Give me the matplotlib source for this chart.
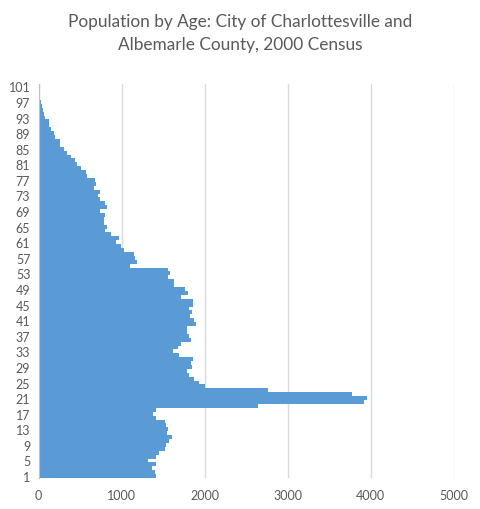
import matplotlib
matplotlib.use("Agg")
import matplotlib.pyplot as plt

# population by single year of age
ages = list(range(1, 102))
population = [
    1417, 1405, 1368, 1417, 1320, 1417, 1453, 1525, 1538, 1574,   # 1-10
    1610, 1550, 1562, 1538, 1525, 1417, 1380, 1417, 2637, 3920,   # 11-20
    3958, 3774, 2758, 2008, 1927, 1867, 1806, 1782, 1843, 1830,   # 21-30
    1855, 1685, 1623, 1681, 1718, 1838, 1814, 1790, 1790, 1900,   # 31-40
    1874, 1826, 1850, 1814, 1862, 1862, 1717, 1801, 1765, 1632,   # 41-50
    1632, 1560, 1584, 1560, 1100, 1185, 1161, 1149, 1028, 995,    # 51-60
    932, 968, 873, 800, 824, 788, 788, 800, 740, 822,             # 61-70
    798, 738, 713, 737, 664, 688, 677, 579, 567, 508,             # 71-80
    460, 433, 387, 338, 300, 254, 254, 200, 180, 150,             # 81-90
    121, 121, 72, 60, 54, 42, 24, 12, 5, 3,                       # 91-100
    2,                                                            # 101
]
xticks = [0, 1000, 2000, 3000, 4000, 5000]

title = "Population by Age: City of Charlottesville and\nAlbemarle County, 2000 Census"

plt.rcParams['font.family'] = ['Lato', 'DejaVu Sans']
grey = '#595959'

fig = plt.figure(figsize=(4.8, 5.1), dpi=100)
ax = fig.add_axes([0.0806, 0.0608, 0.8646, 0.7717])

ax.barh(ages, population, height=1.0, color='#5b9bd5', linewidth=0, zorder=2)

ax.set_xlim(0, 5000)
ax.set_ylim(0.5, 101.5)
ax.set_xticks(xticks)
ax.set_xticklabels([str(t) for t in xticks])
ax.set_yticks(ages[::4])
ax.set_yticklabels([str(a) for a in ages[::4]])

ax.grid(axis='x', color='#d9d9d9', linewidth=1, zorder=0)
ax.tick_params(axis='both', length=0, labelsize=9, colors=grey)
ax.tick_params(axis='x', pad=8)
ax.tick_params(axis='y', pad=6)
for side in ['top', 'right', 'bottom']:
    ax.spines[side].set_visible(False)
ax.spines['left'].set_color('#bfbfbf')
ax.spines['left'].set_zorder(3)

fig.text(0.5, 0.972, title, ha='center', va='top', fontsize=12.4,
         color=grey, linespacing=1.5)

fig.savefig("out.png", dpi=100)
